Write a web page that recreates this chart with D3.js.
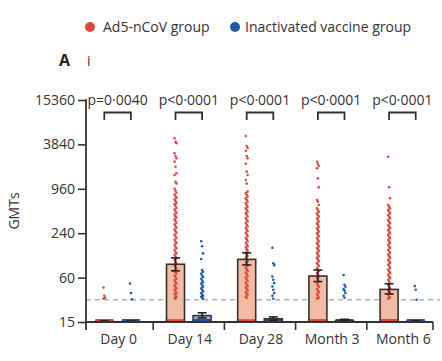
<!DOCTYPE html>
<html>
<head>
<meta charset="utf-8">
<script src="https://cdn.jsdelivr.net/npm/d3@7"></script>
<style>
  html, body { margin: 0; padding: 0; background: #fff; }
  svg { display: block; font-family: "Open Sans", sans-serif; }
</style>
</head>
<body>
<svg id="chart" width="442" height="361"></svg>
<script>
// ---------- data ----------
const categories = ["Day 0", "Day 14", "Day 28", "Month 3", "Month 6"];
const groups = ["Ad5-nCoV group", "Inactivated vaccine group"];
const yTicks = [15, 60, 240, 960, 3840, 15360];
const pValues = ["p=0·0040", "p<0·0001", "p<0·0001", "p<0·0001", "p<0·0001"];
const threshold = 30;

const gmtAd5 = [15, 91, 106, 63, 41.5];
const ciLowAd5 = [15, 74, 89, 53, 36];
const ciHighAd5 = [15.3, 111, 130, 76, 49.6];
const gmtInact = [15, 18.3, 16.6, 15.6, 15];
const ciLowInact = [15, 17, 15.8, 15, 15];
const ciHighInact = [15.3, 20, 17.6, 16.3, 15.3];

// participants at the lower limit (15)
const lloqAd5 = [60, 14, 12, 18, 30];
const lloqInact = [60, 40, 50, 60, 60];

// individual values above the lower limit
const dotsAd5Day0 = [44, 34, 32, 31];
const dotsAd5Day14 = [4650, 4180, 3980, 2910, 2670, 2490, 2240, 1910, 1560, 1480, 1190, 1130,
  960, 905, 850, 805, 760, 722, 688, 650, 618, 592, 560, 528, 503, 476, 452, 430, 408, 392, 371,
  352, 333, 316, 301, 284, 270, 256, 242, 229, 217, 206, 196, 184, 176, 167, 157, 150, 143, 134,
  128, 122, 116, 109, 104, 98, 93, 89, 84, 79, 75, 71, 68, 64, 61, 58, 55, 52, 50, 47, 45, 43,
  41, 39, 37, 36, 34, 33, 32, 31];
const dotsAd5Day28 = [4990, 3650, 3440, 3150, 2670, 2490, 2100, 1640, 1480, 1260, 1130,
  880, 840, 790, 752, 711, 676, 640, 611, 580, 548, 521, 497, 470, 447, 426, 404, 386, 366, 349,
  331, 314, 298, 283, 268, 255, 243, 230, 219, 207, 198, 187, 178, 169, 160, 153, 145, 138, 131,
  124, 118, 112, 107, 101, 96, 91, 87, 82, 78, 74, 70, 67, 63, 60, 57, 54, 51, 48, 46, 44, 42,
  40, 38, 36, 35, 33, 32];
const dotsAd5Month3 = [2235, 2080, 1955, 1820, 1330, 1005, 677, 640, 580, 522,
  495, 468, 445, 420, 401, 380, 361, 343, 326, 311, 294, 280, 266, 252, 240, 228, 216, 206, 195,
  186, 176, 168, 159, 151, 144, 137, 130, 123, 117, 111, 106, 100, 95, 90, 86, 81, 77, 73, 69,
  66, 62, 59, 56, 53, 50, 47, 45, 42, 40, 38, 36, 34, 32, 31];
const dotsAd5Month6 = [2615, 1005, 714, 580, 551, 522, 497, 470, 445, 423, 400, 382, 362,
  343, 327, 310, 295, 280, 266, 252, 240, 228, 217, 205, 195, 186, 177, 168, 159, 151, 143, 136,
  129, 123, 117, 111, 105, 100, 95, 90, 86, 81, 77, 73, 69, 66, 62, 59, 56, 53, 50, 48, 45, 43,
  41, 39, 37, 35, 33, 32, 31];
const dotsInactDay0 = [50, 37, 30.5];
const dotsInactDay14 = [187, 160, 128, 107, 76, 72, 68, 64, 61, 58, 55, 52, 50, 47, 45, 43,
  41, 39, 37, 35, 34, 33, 32, 31];
const dotsInactDay28 = [152, 94, 88, 62, 56, 50.5, 45.5, 41, 37, 34, 31];
const dotsInactMonth3 = [65, 48, 45, 42, 40, 37, 34, 32];
const dotsInactMonth6 = [46, 41, 30];

const dotsAd5 = [dotsAd5Day0, dotsAd5Day14, dotsAd5Day28, dotsAd5Month3, dotsAd5Month6];
const dotsInact = [dotsInactDay0, dotsInactDay14, dotsInactDay28, dotsInactMonth3, dotsInactMonth6];

// ---------- styles ----------
const dotColor = ["#e0473b", "#1f5aa8"];
const barFill = ["#f2bba3", "#9fb1dc"];
const ink = "#333333";

// ---------- scales ----------
const svg = d3.select("#chart");
const yTop = 100, yBottom = 322;
const y = d3.scaleLog().domain([15, 15360]).range([yBottom, yTop]);
const x = d3.scaleBand().domain(categories).range([82, 438]);
const sub = d3.scaleBand().domain(groups).range([-26.6, 26.6]).paddingInner(0.323).paddingOuter(0.1617);
const bw = sub.bandwidth();
const center = (c, g) => x(c) + x.bandwidth() / 2 + sub(g) + bw / 2;

// ---------- legend ----------
const legend = [
  { g: groups[0], cx: 90, tx: 103 },
  { g: groups[1], cx: 235, tx: 245 }
];
legend.forEach((d, i) => {
  svg.append("circle").attr("cx", d.cx).attr("cy", 27).attr("r", 5).attr("fill", dotColor[i]);
  svg.append("text").attr("x", d.tx).attr("y", 32).attr("font-size", 14).attr("fill", ink).text(d.g);
});
svg.append("text").attr("x", 59).attr("y", 66).attr("font-size", 16).attr("font-weight", "bold").attr("fill", "#222").text("A");
svg.append("text").attr("x", 87).attr("y", 66).attr("font-size", 14).attr("fill", ink).text("i");

// ---------- threshold ----------
svg.append("line").attr("x1", 86).attr("x2", 440).attr("y1", y(threshold)).attr("y2", y(threshold))
  .attr("stroke", "#a9b3bf").attr("stroke-width", 1.5).attr("stroke-dasharray", "5,4");

// ---------- bars ----------
const series = [
  { gmt: gmtAd5, lo: ciLowAd5, hi: ciHighAd5, dots: dotsAd5, lloq: lloqAd5 },
  { gmt: gmtInact, lo: ciLowInact, hi: ciHighInact, dots: dotsInact, lloq: lloqInact }
];

series.forEach((s, gi) => {
  const g = groups[gi];
  categories.forEach((c, ci) => {
    const cx = center(c, g);
    const top = y(s.gmt[ci]);
    if (yBottom - top > 0.5) {
      svg.append("rect").attr("x", cx - bw / 2).attr("y", top).attr("width", bw).attr("height", yBottom - top)
        .attr("fill", barFill[gi]);
    }
  });
});

// dots
series.forEach((s, gi) => {
  const g = groups[gi];
  categories.forEach((c, ci) => {
    const cx = center(c, g);
    const vals = s.dots[ci];
    svg.append("g").selectAll("circle").data(vals).join("circle")
      .attr("cx", (d, i) => cx + ((i % 3) - 1) * 0.9)
      .attr("cy", d => y(d))
      .attr("r", 1.3)
      .attr("fill", dotColor[gi]);
    // values at the lower limit, spread across the bar
    const n = s.lloq[ci];
    const spread = d3.scaleLinear().domain([0, n - 1]).range([cx - bw / 2 + 1, cx + bw / 2 - 1]);
    svg.append("g").selectAll("circle").data(d3.range(n)).join("circle")
      .attr("cx", d => spread(d))
      .attr("cy", y(15) - 1.3)
      .attr("r", 1.4)
      .attr("fill", dotColor[gi]);
  });
});

// bar outlines and error bars
series.forEach((s, gi) => {
  const g = groups[gi];
  categories.forEach((c, ci) => {
    const cx = center(c, g);
    const top = y(s.gmt[ci]);
    if (yBottom - top > 0.5) {
      svg.append("rect").attr("x", cx - bw / 2).attr("y", top).attr("width", bw).attr("height", yBottom - top)
        .attr("fill", "none").attr("stroke", ink).attr("stroke-width", 1.6);
    }
    const yl = y(s.lo[ci]), yh = y(s.hi[ci]);
    const cap = 4.5;
    svg.append("line").attr("x1", cx).attr("x2", cx).attr("y1", yl).attr("y2", yh).attr("stroke", "#222").attr("stroke-width", 1.5);
    svg.append("line").attr("x1", cx - cap).attr("x2", cx + cap).attr("y1", yh).attr("y2", yh).attr("stroke", "#222").attr("stroke-width", 1.6);
    svg.append("line").attr("x1", cx - cap).attr("x2", cx + cap).attr("y1", Math.min(yl, yBottom - 1)).attr("y2", Math.min(yl, yBottom - 1)).attr("stroke", "#222").attr("stroke-width", 1.6);
  });
});

// ---------- axes ----------
const yAxis = d3.axisLeft(y).tickValues(yTicks).tickFormat(d3.format("d")).tickSize(8).tickPadding(3);
const gy = svg.append("g").attr("transform", "translate(86,0)").call(yAxis);
gy.select(".domain").remove();
gy.selectAll(".tick line").attr("stroke", ink).attr("stroke-width", 1.6);
gy.selectAll(".tick text").attr("font-size", 14).attr("fill", ink).attr("font-family", "Open Sans, sans-serif");
svg.append("line").attr("x1", 86).attr("x2", 86).attr("y1", yTop - 1).attr("y2", 330).attr("stroke", ink).attr("stroke-width", 1.8);

// x axis
svg.append("line").attr("x1", 86).attr("x2", 433).attr("y1", yBottom).attr("y2", yBottom).attr("stroke", ink).attr("stroke-width", 1.8);
const bounds = categories.slice(1).map(c => x(c)).concat([433]);
svg.append("g").selectAll("line").data(bounds).join("line")
  .attr("x1", d => d).attr("x2", d => d).attr("y1", yBottom).attr("y2", 330)
  .attr("stroke", ink).attr("stroke-width", 1.6);
svg.append("g").selectAll("text").data(categories).join("text")
  .attr("x", c => x(c) + x.bandwidth() / 2 + 1)
  .attr("y", 344)
  .attr("text-anchor", "middle").attr("font-size", 14).attr("fill", ink)
  .text(c => c);

svg.append("text").attr("transform", "translate(19,211) rotate(-90)").attr("text-anchor", "middle")
  .attr("font-size", 14).attr("fill", ink).text("GMTs");

// ---------- p-values ----------
categories.forEach((c, ci) => {
  const x1 = center(c, groups[0]), x2 = center(c, groups[1]);
  svg.append("text").attr("x", (x1 + x2) / 2).attr("y", 105).attr("text-anchor", "middle")
    .attr("font-size", 14).attr("fill", ink).text(pValues[ci]);
  svg.append("path").attr("d", `M${x1},120 V112.5 H${x2} V120`).attr("fill", "none")
    .attr("stroke", ink).attr("stroke-width", 1.8);
});
</script>
</body>
</html>
